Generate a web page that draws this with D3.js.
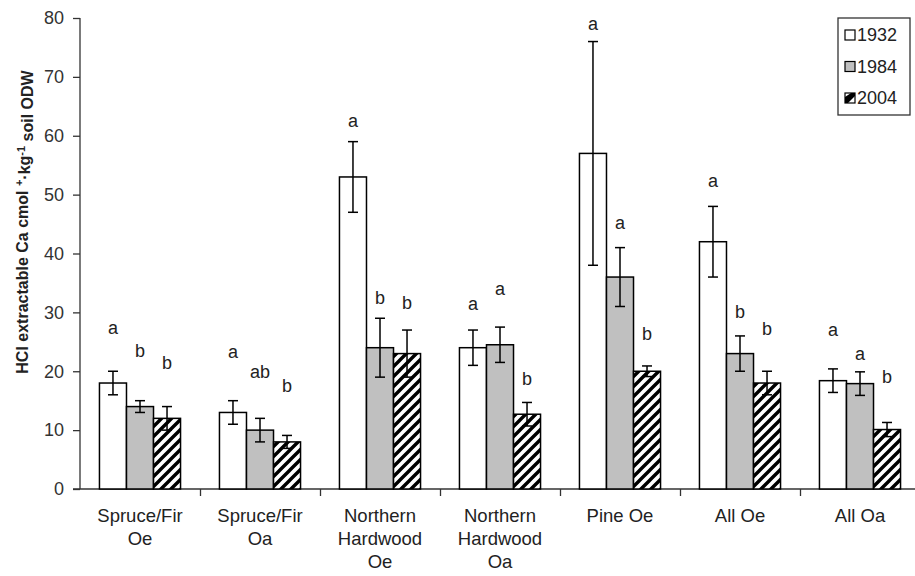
<!DOCTYPE html>
<html><head><meta charset="utf-8">
<script src="https://cdn.jsdelivr.net/npm/d3@7"></script>
<style>body{margin:0;background:#fff} svg{display:block} text{font-family:"Liberation Sans",Arial,Helvetica,sans-serif}</style>
</head><body><svg id="c" width="915" height="576"></svg>
<script>
const categories = [["Spruce/Fir","Oe"],["Spruce/Fir","Oa"],["Northern","Hardwood","Oe"],["Northern","Hardwood","Oa"],["Pine Oe"],["All Oe"],["All Oa"]];
const years = ["1932","1984","2004"];
const values1932 = [18,13,53,24,57,42,18.4];
const values1984 = [14,10,24,24.5,36,23,17.9];
const values2004 = [12,8,23,12.7,20,18,10.1];
const err1932 = [2,2,6,3,19,6,2];
const err1984 = [1,2,5,3,5,3,2];
const err2004 = [2,1.1,4,2,0.9,2,1.2];
const letters1932 = ["a","a","a","a","a","a","a"];
const letters1984 = ["b","ab","b","a","a","b","a"];
const letters2004 = ["b","b","b","b","b","b","b"];
const letterPos1932 = [27.3,23.3,62.4,31.3,79.0,52.3,27.0];
const letterPos1984 = [23.4,19.9,32.4,34.0,45.2,30.1,22.9];
const letterPos2004 = [21.4,17.5,31.6,18.7,26.3,27.2,18.9];
const yTicks = [0,10,20,30,40,50,60,70,80];

const svg = d3.select("#c");
const defs = svg.append("defs");
const pat = defs.append("pattern").attr("id","hatch").attr("patternUnits","userSpaceOnUse")
  .attr("width",10).attr("height",10);
pat.append("rect").attr("width",10).attr("height",10).attr("fill","#fff");
pat.append("path").attr("d","M-2,2 L2,-2 M0,10 L10,0 M8,12 L12,8").attr("stroke","#000").attr("stroke-width",3.4);

const seriesVals = [values1932, values1984, values2004];
const seriesErr = [err1932, err1984, err2004];
const seriesLet = [letters1932, letters1984, letters2004];
const seriesLetPos = [letterPos1932, letterPos1984, letterPos2004];
const fills = ["#fff","#c0c0c0","url(#hatch)"];

const x = d3.scaleBand().domain(d3.range(categories.length)).range([80,920]).padding(0);
const xs = d3.scaleBand().domain(years).range([0, x.bandwidth()]).paddingInner(0).paddingOuter(0.72);
const y = d3.scaleLinear().domain([0,80]).range([489,18]);

// y axis
const ya = svg.append("g").attr("transform","translate(80,0)")
  .call(d3.axisLeft(y).tickValues(yTicks).tickSize(7).tickPadding(9).tickFormat(d3.format("d")));
ya.select(".domain").attr("stroke","#333").attr("stroke-width",1.3).attr("d","M0,18V489");
ya.selectAll(".tick line").attr("stroke","#333").attr("stroke-width",1.3);
ya.selectAll(".tick text").attr("font-size",18).attr("fill","#333").attr("font-family","Liberation Sans, Arial, sans-serif");

// x axis
const xb = d3.scaleLinear().domain([0,categories.length]).range([80,920]);
const xa = svg.append("g").attr("transform","translate(0,489)")
  .call(d3.axisBottom(xb).tickValues(d3.range(1,categories.length)).tickSize(7).tickFormat(""));
xa.select(".domain").attr("stroke","#333").attr("stroke-width",1.3).attr("d","M73,0H920");
xa.selectAll(".tick line").attr("stroke","#333").attr("stroke-width",1.3);

// bars
years.forEach((yr, si) => {
  const g = svg.append("g");
  categories.forEach((c, i) => {
    const x0 = x(i) + xs(yr);
    const v = seriesVals[si][i];
    g.append("rect").attr("x", x0).attr("y", y(v)).attr("width", xs.bandwidth()).attr("height", y(0)-y(v))
      .attr("fill", fills[si]).attr("stroke","#000").attr("stroke-width",1.5);
  });
});
// error bars + letters
years.forEach((yr, si) => {
  categories.forEach((c, i) => {
    const cx = x(i) + xs(yr) + xs.bandwidth()/2;
    const v = seriesVals[si][i], e = seriesErr[si][i];
    const g = svg.append("g").attr("stroke","#000").attr("stroke-width",1.5);
    g.append("line").attr("x1",cx).attr("x2",cx).attr("y1",y(v+e)).attr("y2",y(v-e));
    g.append("line").attr("x1",cx-5).attr("x2",cx+5).attr("y1",y(v+e)).attr("y2",y(v+e));
    g.append("line").attr("x1",cx-5).attr("x2",cx+5).attr("y1",y(v-e)).attr("y2",y(v-e));
    svg.append("text").attr("x",cx).attr("y",y(seriesLetPos[si][i])).attr("dy","0.32em")
      .attr("text-anchor","middle").attr("font-size",18).attr("fill","#222").text(seriesLet[si][i]);
  });
});

// category labels
categories.forEach((lines, i) => {
  const t = svg.append("text").attr("text-anchor","middle").attr("font-size",18.5).attr("fill","#222");
  lines.forEach((l, k) => {
    t.append("tspan").attr("x", x(i)+x.bandwidth()/2).attr("y", 522 + k*23).text(l);
  });
});

// y label
const yl = svg.append("text").attr("transform","translate(28,222) rotate(-90)").attr("text-anchor","middle")
  .attr("font-size",16).attr("font-weight","bold").attr("fill","#222");
yl.append("tspan").text("HCI extractable Ca cmol ");
yl.append("tspan").attr("dy","-0.45em").attr("font-size",11).text("+");
yl.append("tspan").attr("dy","0.45em").text("·kg");
yl.append("tspan").attr("dy","-0.45em").attr("font-size",11).text("-1");
yl.append("tspan").attr("dy","0.45em").text(" soil ODW");

// legend
const lg = svg.append("g");
lg.append("rect").attr("x",838).attr("y",18).attr("width",72).attr("height",97).attr("fill","#fff").attr("stroke","#333").attr("stroke-width",1.3);
years.forEach((yr, si) => {
  const cy = 35 + si*31.5;
  const sx = 845, sy = cy-5;
  if (si < 2) {
    lg.append("rect").attr("x",sx).attr("y",sy).attr("width",10).attr("height",10).attr("fill",fills[si]).attr("stroke","#000").attr("stroke-width",1.2);
  } else {
    lg.append("rect").attr("x",sx).attr("y",sy).attr("width",10).attr("height",10).attr("fill","#fff").attr("stroke","#000").attr("stroke-width",1.2);
    lg.append("path").attr("d",`M${sx},${sy+10}L${sx},${sy+4}L${sx+6},${sy}L${sx+10},${sy}L${sx+10},${sy+3}L${sx+3},${sy+10}Z`).attr("fill","#000");
  }
  lg.append("text").attr("x",857).attr("y",cy).attr("dy","0.36em").attr("font-size",18).attr("fill","#222").text(yr);
});
</script></body></html>
